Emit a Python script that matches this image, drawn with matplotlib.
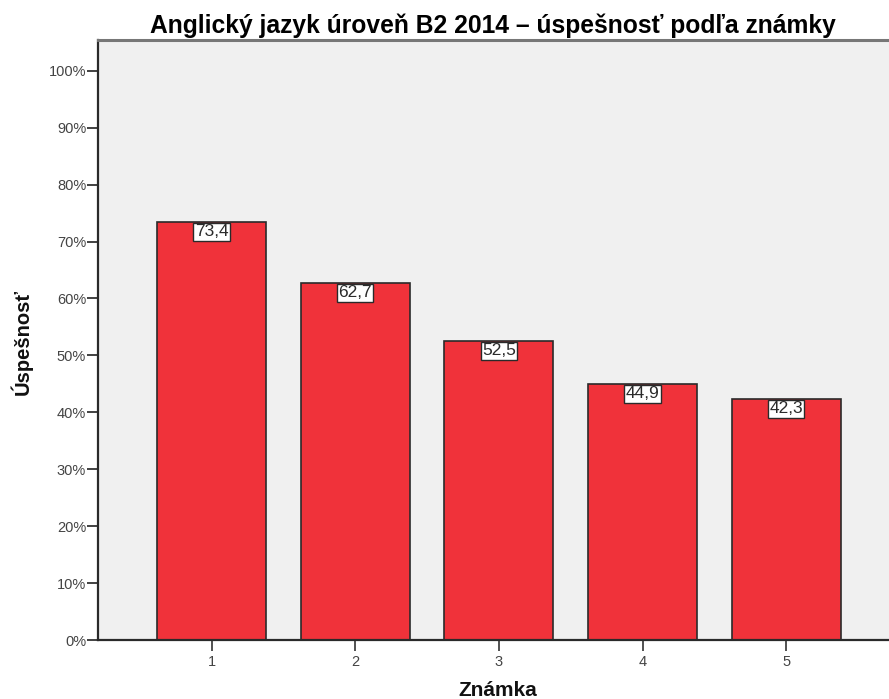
import numpy as np
import matplotlib
matplotlib.use('Agg')
import matplotlib.pyplot as plt
from matplotlib.ticker import FuncFormatter

# data
znamky = ['1', '2', '3', '4', '5']
uspesnost = [73.4, 62.7, 52.5, 44.9, 42.3]
yticks = np.arange(0, 101, 10)

plt.rcParams['font.family'] = ['Liberation Sans', 'DejaVu Sans']

W, H = 889, 699
fig = plt.figure(figsize=(W / 100, H / 100), dpi=100)
# axes frame: left spine x=98, bottom y=640, top y=40, runs off the right edge
ax = fig.add_axes([98 / W, (H - 640) / H, (W - 98) / W, 600 / H])
ax.set_facecolor('#f0f0f0')

x = np.arange(1, len(znamky) + 1)
ax.bar(x, uspesnost, width=0.76, color='#f0323a', edgecolor='#2a2a2a', linewidth=1.2, zorder=2)

for xi, v in zip(x, uspesnost):
    ax.annotate(f'{v:.1f}'.replace('.', ','), xy=(xi, v), xytext=(0, -1.5), textcoords='offset points',
                ha='center', va='top', fontsize=12.5, color='#2a2a2a', zorder=3,
                bbox=dict(boxstyle='square,pad=0.08', fc='white', ec='#2a2a2a', lw=1.0))

ax.set_xlim(0.21, 5.715)
ax.set_ylim(0, 105.4)
ax.set_xticks(x)
ax.set_xticklabels(znamky)
ax.set_yticks(yticks)
ax.yaxis.set_major_formatter(FuncFormatter(lambda v, p: f'{v:.0f}%'))
ax.tick_params(axis='y', length=8, width=1.3, color='#333333', labelsize=10.5, labelcolor='#444444', pad=0.5)
ax.tick_params(axis='x', length=8, width=1.2, color='#333333', labelsize=10.5, labelcolor='#444444', pad=3)

for s in ['left', 'bottom']:
    ax.spines[s].set_linewidth(1.6)
    ax.spines[s].set_color('#2a2a2a')
ax.spines['top'].set_linewidth(2.2)
ax.spines['top'].set_color('#777777')
ax.spines['right'].set_visible(False)

fig.text(21 / W, 1 - 342 / H, 'Úspešnosť', rotation=90, ha='center', va='center',
         fontsize=14.5, fontweight='bold', color='#111111')
fig.text(498 / W, 1 - 690 / H, 'Známka', ha='center', va='center',
         fontsize=15, fontweight='bold', color='#111111')
fig.text(493 / W, 1 - 33 / H, 'Anglický jazyk úroveň B2 2014 – úspešnosť podľa známky',
         ha='center', va='baseline', fontsize=17.7, fontweight='bold')

fig.savefig('out.png', dpi=100)
